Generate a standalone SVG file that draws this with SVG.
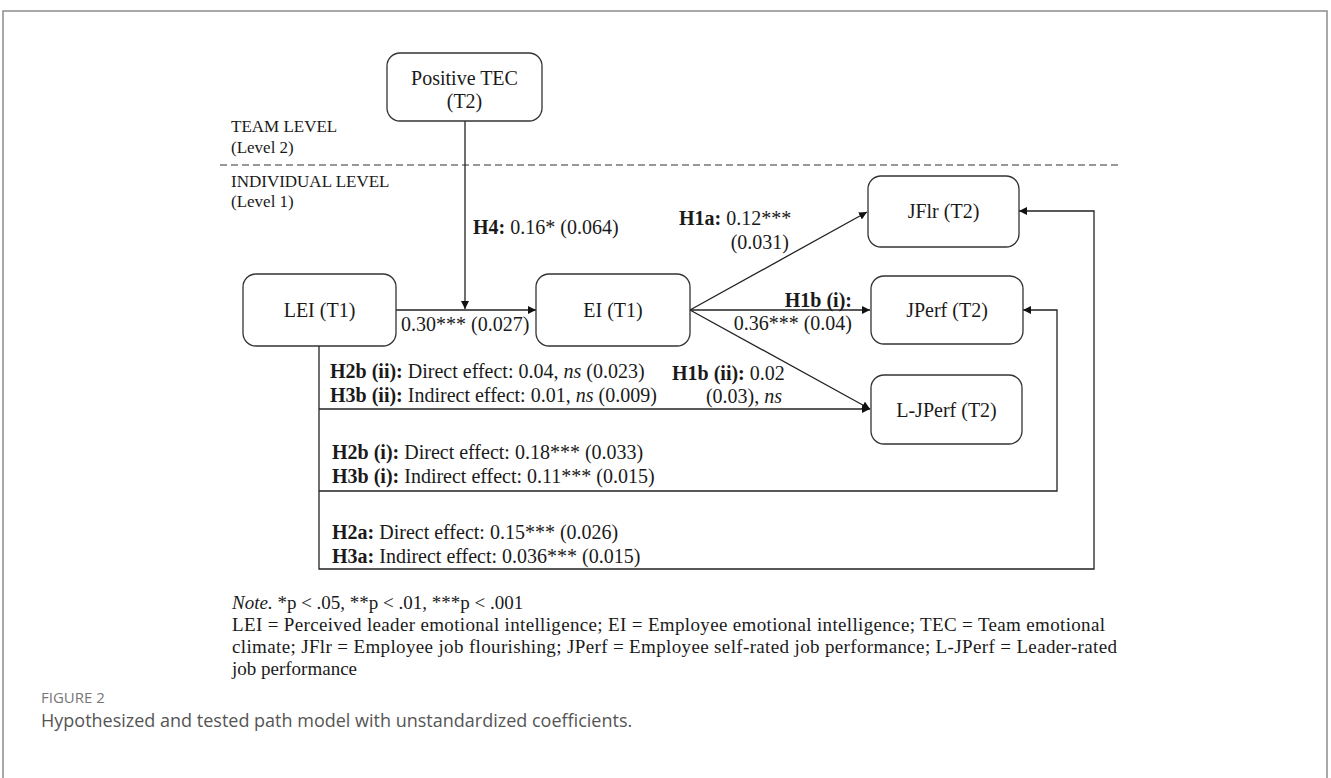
<svg xmlns="http://www.w3.org/2000/svg" width="1331" height="778" viewBox="0 0 1331 778">
<style>
.bx{fill:#fff;stroke:#333;stroke-width:1.3}
.t{font-family:"Liberation Serif","Times New Roman",serif;fill:#1a1a1a}
.n{font-size:20px}
.lb{font-size:20px}
.lv{font-size:17px}
.nt{font-size:19px}
.b{font-weight:bold}
.i{font-style:italic}
.ln{fill:none;stroke:#222;stroke-width:1.3}
.cap{font-family:"Open Sans","Noto Sans",sans-serif}
</style>
<defs>
<marker id="ah" viewBox="0 0 10 10" refX="10" refY="5" markerWidth="8" markerHeight="8" markerUnits="userSpaceOnUse" orient="auto">
<path d="M0,0 L10,5 L0,10 z" fill="#111"/>
</marker>
</defs>
<rect width="1331" height="778" fill="#fff"/>
<rect x="3" y="11" width="1324" height="800" fill="none" stroke="#8c8c8c" stroke-width="1.5"/>

<g id="levels">
<line x1="220" y1="165" x2="1118" y2="165" stroke="#333" stroke-width="1.2" stroke-dasharray="7 4"/>
<text class="t lv" x="231" y="132">TEAM LEVEL</text>
<text class="t lv" x="231" y="153">(Level 2)</text>
<text class="t lv" x="231" y="187">INDIVIDUAL LEVEL</text>
<text class="t lv" x="231" y="207">(Level 1)</text>
</g>

<g id="connectors">
<line class="ln" x1="465" y1="121" x2="465" y2="309" marker-end="url(#ah)"/>
<line class="ln" x1="396" y1="310" x2="536" y2="310" marker-end="url(#ah)"/>
<line class="ln" x1="690" y1="310" x2="867" y2="212" marker-end="url(#ah)"/>
<line class="ln" x1="690" y1="310" x2="870" y2="310" marker-end="url(#ah)"/>
<line class="ln" x1="690" y1="310" x2="870" y2="409" marker-end="url(#ah)"/>
<polyline class="ln" points="319,346 319,569 1094,569 1094,211 1019,211" marker-end="url(#ah)"/>
<polyline class="ln" points="319,491 1057,491 1057,310 1023,310" marker-end="url(#ah)"/>
<line class="ln" x1="319" y1="409" x2="870" y2="409" marker-end="url(#ah)"/>
</g>

<g id="node-tec">
<rect class="bx" x="387" y="53" width="155" height="68" rx="13"/>
<text class="t n" x="464.5" y="85" text-anchor="middle">Positive TEC</text>
<text class="t n" x="464.5" y="108" text-anchor="middle">(T2)</text>
</g>
<g id="node-lei">
<rect class="bx" x="243" y="274" width="153" height="72" rx="13"/>
<text class="t n" x="319.5" y="317" text-anchor="middle">LEI (T1)</text>
</g>
<g id="node-ei">
<rect class="bx" x="536" y="274" width="154" height="72" rx="13"/>
<text class="t n" x="613" y="317" text-anchor="middle">EI (T1)</text>
</g>
<g id="node-jflr">
<rect class="bx" x="868" y="176" width="151" height="71" rx="13"/>
<text class="t n" x="943.5" y="218" text-anchor="middle">JFlr (T2)</text>
</g>
<g id="node-jperf">
<rect class="bx" x="871" y="276" width="152" height="68" rx="13"/>
<text class="t n" x="947" y="317" text-anchor="middle">JPerf (T2)</text>
</g>
<g id="node-ljperf">
<rect class="bx" x="871" y="375" width="151" height="69" rx="13"/>
<text class="t n" x="946.5" y="417" text-anchor="middle">L-JPerf (T2)</text>
</g>

<g id="labels">
<text class="t lb" x="473" y="234"><tspan class="b">H4:</tspan> 0.16* (0.064)</text>
<text class="t lb" x="401" y="331">0.30*** (0.027)</text>
<text class="t lb" x="679" y="225"><tspan class="b">H1a:</tspan> 0.12***</text>
<text class="t lb" x="789" y="249" text-anchor="end">(0.031)</text>
<text class="t lb b" x="852" y="307" text-anchor="end">H1b (i):</text>
<text class="t lb" x="852" y="330" text-anchor="end">0.36*** (0.04)</text>
<text class="t lb" x="672" y="380"><tspan class="b">H1b (ii):</tspan> 0.02</text>
<text class="t lb" x="782" y="403" text-anchor="end">(0.03), <tspan class="i">ns</tspan></text>
<text class="t lb" x="330" y="378"><tspan class="b">H2b (ii):</tspan> Direct effect: 0.04, <tspan class="i">ns</tspan> (0.023)</text>
<text class="t lb" x="330" y="402"><tspan class="b">H3b (ii):</tspan> Indirect effect: 0.01, <tspan class="i">ns</tspan> (0.009)</text>
<text class="t lb" x="332" y="459"><tspan class="b">H2b (i):</tspan> Direct effect: 0.18*** (0.033)</text>
<text class="t lb" x="332" y="483"><tspan class="b">H3b (i):</tspan> Indirect effect: 0.11*** (0.015)</text>
<text class="t lb" x="332" y="539"><tspan class="b">H2a:</tspan> Direct effect: 0.15*** (0.026)</text>
<text class="t lb" x="332" y="563"><tspan class="b">H3a:</tspan> Indirect effect: 0.036*** (0.015)</text>
</g>

<g id="note">
<text class="t nt" x="232" y="609"><tspan class="i">Note.</tspan> *p &lt; .05, **p &lt; .01, ***p &lt; .001</text>
<text class="t nt" x="232" y="631" textLength="873" lengthAdjust="spacing">LEI = Perceived leader emotional  intelligence;  EI = Employee emotional  intelligence;  TEC = Team emotional</text>
<text class="t nt" x="232" y="653" textLength="885" lengthAdjust="spacing">climate;  JFlr = Employee job flourishing;  JPerf = Employee  self-rated job performance; L-JPerf = Leader-rated</text>
<text class="t nt" x="232" y="675">job performance</text>
</g>

<g id="caption">
<text class="cap" x="41" y="703" font-size="15" fill="#777">FIGURE 2</text>
<text class="cap" x="41" y="727" font-size="18" fill="#555">Hypothesized and tested path model with unstandardized coefficients.</text>
</g>
</svg>
